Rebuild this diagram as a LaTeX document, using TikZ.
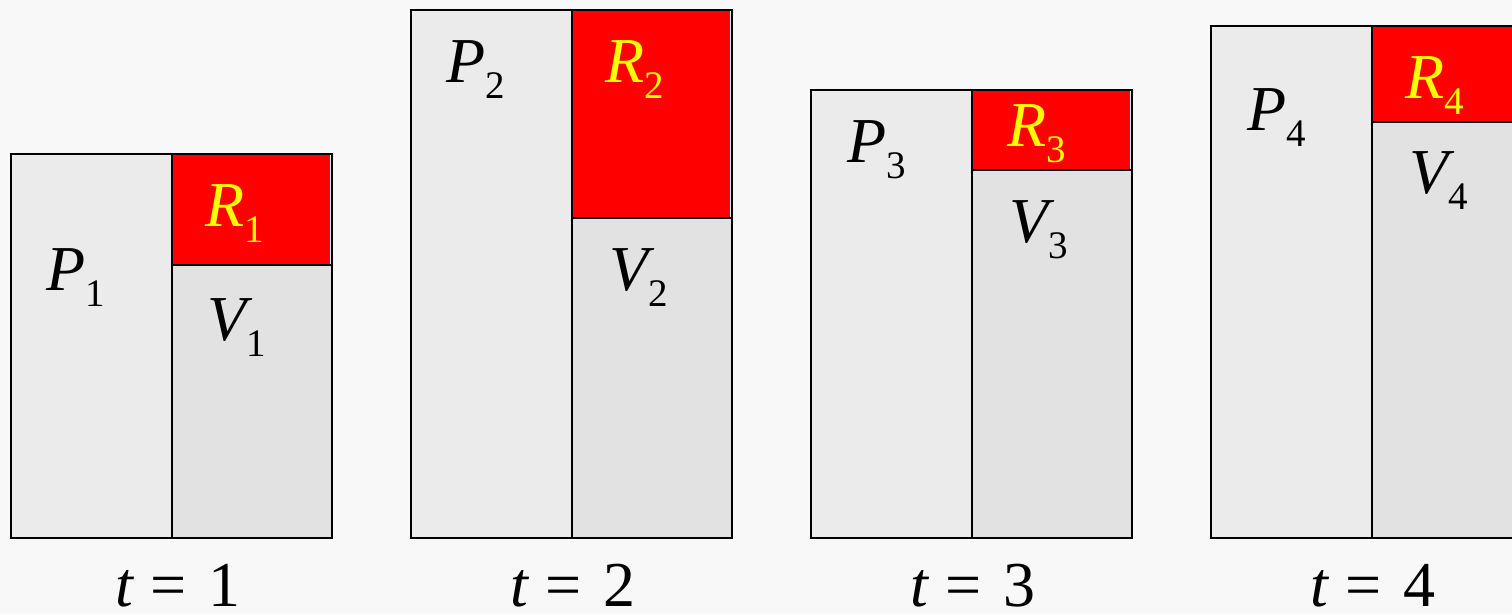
\documentclass[tikz,border=0pt]{standalone}
\usepackage{fontspec}
\newfontfamily\timesf{Liberation Serif}
\newcommand{\sublbl}[2]{\fontsize{64}{64}\selectfont\timesf\itshape #1\upshape\raisebox{-16pt}{\fontsize{39}{39}\selectfont\timesf #2}}
\newcommand{\tlbl}[1]{\fontsize{64}{64}\selectfont\timesf\itshape t\upshape\hspace{18pt}=\hspace{22pt}#1}
\definecolor{bgc}{HTML}{F8F8F8}
\definecolor{pfill}{HTML}{EBEBEB}
\definecolor{vfill}{HTML}{E2E2E2}
\definecolor{rfill}{HTML}{FF0000}
\definecolor{rtext}{HTML}{FFFF00}
\tikzset{
  lbl/.style={anchor=base west, inner sep=0pt, outer sep=0pt},
  outline/.style={draw=black, line width=2pt},
  divline/.style={draw=black, line width=1.6pt},
}
\begin{document}
\begin{tikzpicture}[x=1pt,y=-1pt]
\useasboundingbox (0,0) rectangle (1512,614);
\fill[bgc] (0,0) rectangle (1512,614);
\begin{scope}
\clip (0,0) rectangle (1512,614);
% box specs: left, top, red bottom
\foreach \l/\t/\r in {11/154/265, 411/10/218, 811/90/170, 1211/26/122}{
  \pgfmathsetmacro{\d}{\l+161}
  \pgfmathsetmacro{\rr}{\l+321}
  \fill[pfill] (\l,\t) rectangle (\d,538);
  \fill[vfill] (\d,\r) rectangle (\rr,538);
  \fill[rfill] (\d,\t) rectangle (\rr-2,\r);
  \draw[divline] (\d,\t) -- (\d,538);
  \draw[divline] (\d,\r) -- (\rr,\r);
  \draw[outline] (\l,\t) rectangle (\rr,538);
}
\end{scope}
\node[lbl] (p1) at (46,290) {\sublbl{P}{1}};
\node[lbl] (r1) at (205,226) {\color{rtext}\sublbl{R}{1}};
\node[lbl] (v1) at (207,340) {\sublbl{V}{1}};
\node[lbl] (p2) at (446,82) {\sublbl{P}{2}};
\node[lbl] (r2) at (605,82) {\color{rtext}\sublbl{R}{2}};
\node[lbl] (v2) at (609,290) {\sublbl{V}{2}};
\node[lbl] (p3) at (847,162) {\sublbl{P}{3}};
\node[lbl] (r3) at (1007,146) {\color{rtext}\sublbl{R}{3}};
\node[lbl] (v3) at (1009,242) {\sublbl{V}{3}};
\node[lbl] (p4) at (1247,130) {\sublbl{P}{4}};
\node[lbl] (r4) at (1405,98) {\color{rtext}\sublbl{R}{4}};
\node[lbl] (v4) at (1409,193) {\sublbl{V}{4}};
\node[lbl] (t1) at (115,606) {\tlbl{1}};
\node[lbl] (t2) at (510,606) {\tlbl{2}};
\node[lbl] (t3) at (910,606) {\tlbl{3}};
\node[lbl] (t4) at (1310,606) {\tlbl{4}};
\end{tikzpicture}
\end{document}
